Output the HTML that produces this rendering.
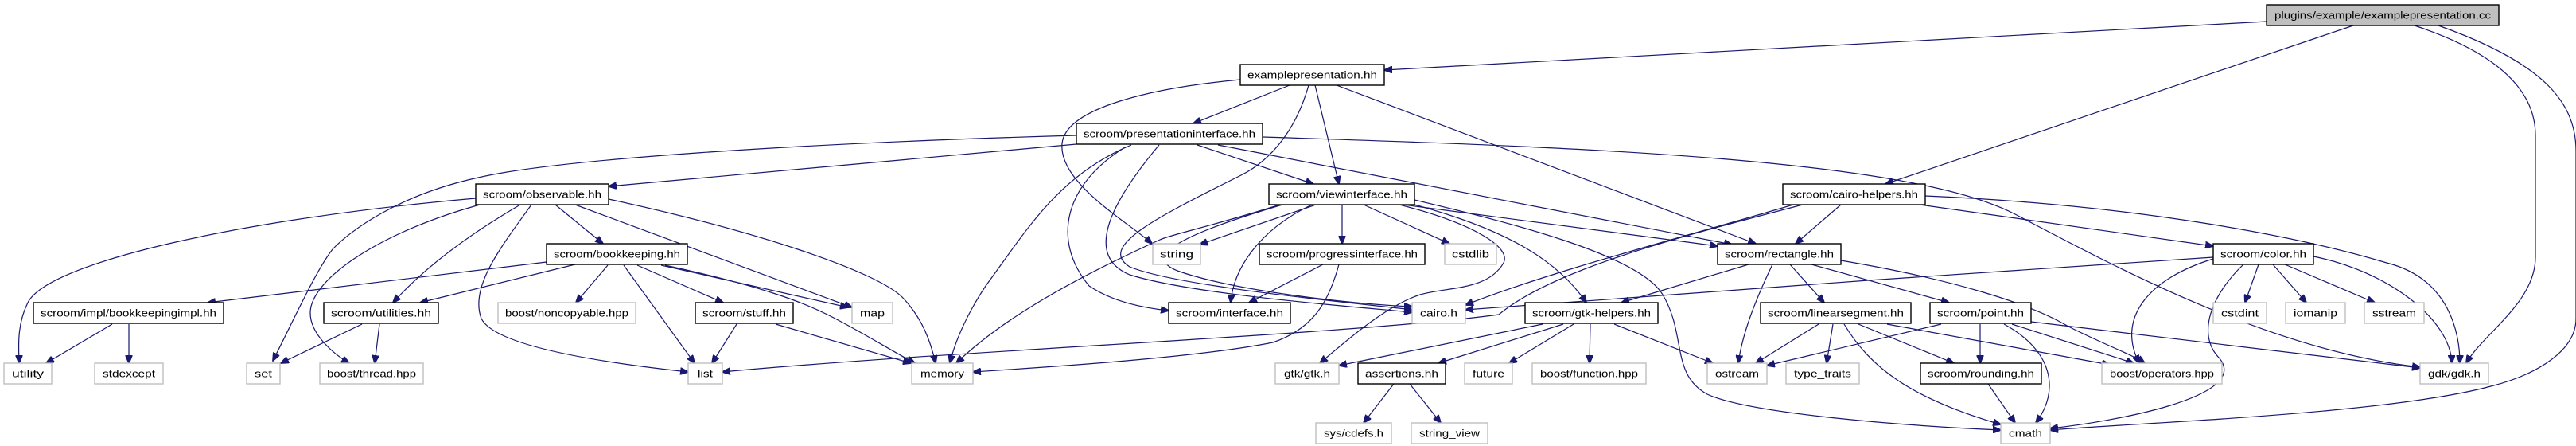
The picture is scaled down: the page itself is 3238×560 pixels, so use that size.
<!DOCTYPE html>
<html><head><meta charset="utf-8"><style>
html,body{margin:0;padding:0;background:#fff;}
svg{display:block;}
text{font-family:"Liberation Sans","DejaVu Sans",sans-serif;font-size:13px;fill:#000;}
.e{fill:none;stroke:#191970;stroke-width:1.2;marker-end:url(#a);}
.b{fill:#fff;stroke:#000;stroke-width:1.4;}
.g{fill:#fff;stroke:#bfbfbf;stroke-width:1.4;}
</style></head><body>
<svg width="3238" height="560" viewBox="0 0 3238 560" xmlns="http://www.w3.org/2000/svg">
<defs><marker id="a" markerWidth="11" markerHeight="9" refX="10" refY="4.5" orient="auto" markerUnits="userSpaceOnUse"><path d="M0,0 L11,4.5 L0,9 z" fill="#191970" stroke="#191970"/></marker></defs>
<g>
<path class="e" d="M2849,27 L1740,88"/>
<path class="e" d="M2958,32 L2370,231"/>
<path class="e" d="M3035,32 C3150,70 3187,120 3187,170 L3187,323 C3187,380 3120,420 3100,456"/>
<path class="e" d="M3065,32 C3200,80 3238,130 3238,190 L3238,400 C3238,440 3190,470 3131,485 C3000,520 2700,530 2577,540"/>
<path class="e" d="M1621,107 L1500,155"/>
<path class="e" d="M1653,107 L1683,231"/>
<path class="e" d="M1680,107 L2207,306"/>
<path class="e" d="M1559,100 C1450,110 1340,135 1335,180 C1330,230 1420,280 1448,306"/>
<path class="e" d="M1645,107 C1630,160 1600,200 1560,220 C1450,275 1380,310 1420,335 C1480,360 1700,380 1775,389"/>
<path class="e" d="M1353,181 L765,234"/>
<path class="e" d="M1353,170 C1000,180 700,200 601,223 C500,245 440,290 418,313 C397,340 370,400 343,453"/>
<path class="e" d="M1422,182 C1330,220 1290,290 1239,359 C1215,395 1200,430 1194,456"/>
<path class="e" d="M1414,185 C1340,230 1320,300 1369,359 C1400,380 1440,387 1469,390"/>
<path class="e" d="M1457,182 C1400,250 1360,320 1420,345 C1500,370 1700,385 1775,392"/>
<path class="e" d="M1505,182 L1651,231"/>
<path class="e" d="M1531,182 L2177,307"/>
<path class="e" d="M1587,172 C2000,185 2400,200 2533,269 C2650,330 2850,440 3042,461"/>
<path class="e" d="M598,249 C300,275 60,330 35,380 C20,410 24,440 24,456"/>
<path class="e" d="M607,256 C480,290 390,350 390,393 C390,420 420,445 439,456"/>
<path class="e" d="M654,257 C580,300 530,340 494,380"/>
<path class="e" d="M668,257 C630,310 590,360 605,400 C625,440 800,460 865,467"/>
<path class="e" d="M698,257 L758,306"/>
<path class="e" d="M723,257 L1071,386"/>
<path class="e" d="M765,250 C950,290 1100,340 1134,373 C1160,400 1170,430 1176,456"/>
<path class="e" d="M687,329 L261,380"/>
<path class="e" d="M727,331 L528,380"/>
<path class="e" d="M764,333 L724,380"/>
<path class="e" d="M784,333 L873,456"/>
<path class="e" d="M801,333 L909,380"/>
<path class="e" d="M831,333 L1066,386"/>
<path class="e" d="M836,333 C960,360 1010,380 1040,395 C1080,415 1120,440 1150,456"/>
<path class="e" d="M141,407 L58,456"/>
<path class="e" d="M162,407 L162,456"/>
<path class="e" d="M455,407 L353,456"/>
<path class="e" d="M477,407 L471,456"/>
<path class="e" d="M926,407 L895,456"/>
<path class="e" d="M975,407 L1145,456"/>
<path class="e" d="M1654,257 L1508,307"/>
<path class="e" d="M1612,257 C1500,290 1430,320 1480,340 C1550,365 1700,382 1775,385"/>
<path class="e" d="M1649,257 C1580,290 1550,340 1547,380"/>
<path class="e" d="M1687,257 L1687,306"/>
<path class="e" d="M1714,257 L1822,306"/>
<path class="e" d="M1759,257 C1850,280 1900,310 1890,330 C1870,365 1820,360 1785,370 C1740,385 1690,430 1659,456"/>
<path class="e" d="M1778,257 C1900,290 1960,330 1994,380"/>
<path class="e" d="M1764,257 L2159,309"/>
<path class="e" d="M1612,256 C1520,285 1470,295 1458,301 C1350,350 1260,400 1202,456"/>
<path class="e" d="M1778,251 C1900,280 2060,320 2090,370 C2120,420 2100,470 2146,495 C2200,520 2400,535 2515,540"/>
<path class="e" d="M2266,257 C2100,300 1950,340 1884,395 C1700,420 1200,440 908,467"/>
<path class="e" d="M2254,257 C2130,294 1950,340 1842,383"/>
<path class="e" d="M1683,332 C1670,380 1650,413 1600,430 C1500,450 1300,462 1223,467"/>
<path class="e" d="M1663,332 L1570,380"/>
<path class="e" d="M2314,257 L2257,306"/>
<path class="e" d="M2413,257 L2782,309"/>
<path class="e" d="M2420,246 C2700,258 2900,300 3000,330 C3080,350 3092,420 3092,456"/>
<path class="e" d="M2198,332 L2038,380"/>
<path class="e" d="M2228,332 C2205,380 2190,420 2185,456"/>
<path class="e" d="M2250,332 L2293,380"/>
<path class="e" d="M2277,332 L2450,380"/>
<path class="e" d="M2314,327 C2450,350 2550,380 2600,410 C2650,435 2680,445 2696,456"/>
<path class="e" d="M2782,323 C2500,340 2100,370 1842,389"/>
<path class="e" d="M1939,407 L1683,459"/>
<path class="e" d="M1965,407 L1808,456"/>
<path class="e" d="M1978,407 L1897,456"/>
<path class="e" d="M1999,407 L1998,456"/>
<path class="e" d="M2029,407 L2153,456"/>
<path class="e" d="M1752,482 L1714,531"/>
<path class="e" d="M1772,482 L1811,531"/>
<path class="e" d="M2286,407 L2207,456"/>
<path class="e" d="M2304,407 L2296,456"/>
<path class="e" d="M2318,407 C2350,460 2400,500 2515,533"/>
<path class="e" d="M2336,407 L2456,456"/>
<path class="e" d="M2372,407 L2652,458"/>
<path class="e" d="M2440,407 L2221,459"/>
<path class="e" d="M2489,407 L2489,456"/>
<path class="e" d="M2519,407 C2580,440 2590,490 2559,531"/>
<path class="e" d="M2529,407 L2682,456"/>
<path class="e" d="M2553,404 L3042,462"/>
<path class="e" d="M2499,482 L2533,531"/>
<path class="e" d="M2839,332 L2822,380"/>
<path class="e" d="M2857,332 L2899,380"/>
<path class="e" d="M2872,332 L2985,380"/>
<path class="e" d="M2782,325 C2700,350 2660,400 2689,456"/>
<path class="e" d="M2820,332 C2780,370 2760,420 2790,450 C2830,500 2650,530 2577,538"/>
<path class="e" d="M2908,322 C3000,340 3080,400 3082,456"/>
</g>
<g>
<rect x="2849" y="6" width="292" height="26" fill="#bfbfbf" stroke="#000" stroke-width="1.4"/>
<text x="2995" y="23.5" text-anchor="middle" textLength="272" lengthAdjust="spacingAndGlyphs">plugins/example/examplepresentation.cc</text>
</g>
<g id="nodes"></g>
<rect class="b" x="1559" y="81" width="181" height="26"/><text x="1649.5" y="98.5" text-anchor="middle" textLength="163" lengthAdjust="spacingAndGlyphs">examplepresentation.hh</text>
<rect class="b" x="1353" y="155" width="234" height="26"/><text x="1470" y="172.5" text-anchor="middle" textLength="216" lengthAdjust="spacingAndGlyphs">scroom/presentationinterface.hh</text>
<rect class="b" x="598" y="231" width="167" height="26"/><text x="681.5" y="248.5" text-anchor="middle" textLength="149" lengthAdjust="spacingAndGlyphs">scroom/observable.hh</text>
<rect class="b" x="1595" y="231" width="183" height="26"/><text x="1686.5" y="248.5" text-anchor="middle" textLength="165" lengthAdjust="spacingAndGlyphs">scroom/viewinterface.hh</text>
<rect class="b" x="2241" y="231" width="179" height="26"/><text x="2330.5" y="248.5" text-anchor="middle" textLength="161" lengthAdjust="spacingAndGlyphs">scroom/cairo-helpers.hh</text>
<rect class="b" x="687" y="306" width="177" height="26"/><text x="775.5" y="323.5" text-anchor="middle" textLength="159" lengthAdjust="spacingAndGlyphs">scroom/bookkeeping.hh</text>
<rect class="g" x="1449" y="306" width="60" height="26"/><text x="1479" y="323.5" text-anchor="middle" textLength="42" lengthAdjust="spacingAndGlyphs">string</text>
<rect class="b" x="1583" y="306" width="208" height="26"/><text x="1687" y="323.5" text-anchor="middle" textLength="190" lengthAdjust="spacingAndGlyphs">scroom/progressinterface.hh</text>
<rect class="g" x="1816" y="306" width="65" height="26"/><text x="1848.5" y="323.5" text-anchor="middle" textLength="47" lengthAdjust="spacingAndGlyphs">cstdlib</text>
<rect class="b" x="2159" y="306" width="155" height="26"/><text x="2236.5" y="323.5" text-anchor="middle" textLength="137" lengthAdjust="spacingAndGlyphs">scroom/rectangle.hh</text>
<rect class="b" x="2782" y="306" width="126" height="26"/><text x="2845" y="323.5" text-anchor="middle" textLength="108" lengthAdjust="spacingAndGlyphs">scroom/color.hh</text>
<rect class="b" x="42" y="380" width="239" height="26"/><text x="161.5" y="397.5" text-anchor="middle" textLength="221" lengthAdjust="spacingAndGlyphs">scroom/impl/bookkeepingimpl.hh</text>
<rect class="b" x="407" y="380" width="144" height="26"/><text x="479" y="397.5" text-anchor="middle" textLength="126" lengthAdjust="spacingAndGlyphs">scroom/utilities.hh</text>
<rect class="g" x="626" y="380" width="173" height="26"/><text x="712.5" y="397.5" text-anchor="middle" textLength="155" lengthAdjust="spacingAndGlyphs">boost/noncopyable.hpp</text>
<rect class="b" x="874" y="380" width="123" height="26"/><text x="935.5" y="397.5" text-anchor="middle" textLength="105" lengthAdjust="spacingAndGlyphs">scroom/stuff.hh</text>
<rect class="g" x="1071" y="380" width="51" height="26"/><text x="1096.5" y="397.5" text-anchor="middle" textLength="31" lengthAdjust="spacingAndGlyphs">map</text>
<rect class="b" x="1469" y="380" width="153" height="26"/><text x="1545.5" y="397.5" text-anchor="middle" textLength="135" lengthAdjust="spacingAndGlyphs">scroom/interface.hh</text>
<rect class="g" x="1775" y="380" width="67" height="26"/><text x="1808.5" y="397.5" text-anchor="middle" textLength="47" lengthAdjust="spacingAndGlyphs">cairo.h</text>
<rect class="b" x="1917" y="380" width="167" height="26"/><text x="2000.5" y="397.5" text-anchor="middle" textLength="149" lengthAdjust="spacingAndGlyphs">scroom/gtk-helpers.hh</text>
<rect class="b" x="2213" y="380" width="189" height="26"/><text x="2307.5" y="397.5" text-anchor="middle" textLength="171" lengthAdjust="spacingAndGlyphs">scroom/linearsegment.hh</text>
<rect class="b" x="2426" y="380" width="127" height="26"/><text x="2489.5" y="397.5" text-anchor="middle" textLength="109" lengthAdjust="spacingAndGlyphs">scroom/point.hh</text>
<rect class="g" x="2782" y="380" width="67" height="26"/><text x="2815.5" y="397.5" text-anchor="middle" textLength="47" lengthAdjust="spacingAndGlyphs">cstdint</text>
<rect class="g" x="2873" y="380" width="75" height="26"/><text x="2910.5" y="397.5" text-anchor="middle" textLength="55" lengthAdjust="spacingAndGlyphs">iomanip</text>
<rect class="g" x="2972" y="380" width="75" height="26"/><text x="3009.5" y="397.5" text-anchor="middle" textLength="55" lengthAdjust="spacingAndGlyphs">sstream</text>
<rect class="g" x="5" y="456" width="60" height="26"/><text x="35" y="473.5" text-anchor="middle" textLength="40" lengthAdjust="spacingAndGlyphs">utility</text>
<rect class="g" x="119" y="456" width="86" height="26"/><text x="162" y="473.5" text-anchor="middle" textLength="66" lengthAdjust="spacingAndGlyphs">stdexcept</text>
<rect class="g" x="310" y="456" width="42" height="26"/><text x="331" y="473.5" text-anchor="middle" textLength="22" lengthAdjust="spacingAndGlyphs">set</text>
<rect class="g" x="402" y="456" width="130" height="26"/><text x="467" y="473.5" text-anchor="middle" textLength="112" lengthAdjust="spacingAndGlyphs">boost/thread.hpp</text>
<rect class="g" x="865" y="456" width="43" height="26"/><text x="886.5" y="473.5" text-anchor="middle" textLength="19" lengthAdjust="spacingAndGlyphs">list</text>
<rect class="g" x="1146" y="456" width="77" height="26"/><text x="1184.5" y="473.5" text-anchor="middle" textLength="55" lengthAdjust="spacingAndGlyphs">memory</text>
<rect class="g" x="1603" y="456" width="80" height="26"/><text x="1643" y="473.5" text-anchor="middle" textLength="58" lengthAdjust="spacingAndGlyphs">gtk/gtk.h</text>
<rect class="b" x="1707" y="456" width="110" height="26"/><text x="1762" y="473.5" text-anchor="middle" textLength="92" lengthAdjust="spacingAndGlyphs">assertions.hh</text>
<rect class="g" x="1841" y="456" width="60" height="26"/><text x="1871" y="473.5" text-anchor="middle" textLength="40" lengthAdjust="spacingAndGlyphs">future</text>
<rect class="g" x="1926" y="456" width="143" height="26"/><text x="1997.5" y="473.5" text-anchor="middle" textLength="123" lengthAdjust="spacingAndGlyphs">boost/function.hpp</text>
<rect class="g" x="2146" y="456" width="75" height="26"/><text x="2183.5" y="473.5" text-anchor="middle" textLength="55" lengthAdjust="spacingAndGlyphs">ostream</text>
<rect class="g" x="2245" y="456" width="92" height="26"/><text x="2291" y="473.5" text-anchor="middle" textLength="72" lengthAdjust="spacingAndGlyphs">type_traits</text>
<rect class="b" x="2414" y="456" width="152" height="26"/><text x="2490" y="473.5" text-anchor="middle" textLength="134" lengthAdjust="spacingAndGlyphs">scroom/rounding.hh</text>
<rect class="g" x="2642" y="456" width="151" height="26"/><text x="2717.5" y="473.5" text-anchor="middle" textLength="131" lengthAdjust="spacingAndGlyphs">boost/operators.hpp</text>
<rect class="g" x="3042" y="456" width="86" height="26"/><text x="3085" y="473.5" text-anchor="middle" textLength="66" lengthAdjust="spacingAndGlyphs">gdk/gdk.h</text>
<rect class="g" x="1654" y="531" width="95" height="26"/><text x="1701.5" y="548.5" text-anchor="middle" textLength="75" lengthAdjust="spacingAndGlyphs">sys/cdefs.h</text>
<rect class="g" x="1774" y="531" width="96" height="26"/><text x="1822" y="548.5" text-anchor="middle" textLength="76" lengthAdjust="spacingAndGlyphs">string_view</text>
<rect class="g" x="2515" y="531" width="62" height="26"/><text x="2546" y="548.5" text-anchor="middle" textLength="42" lengthAdjust="spacingAndGlyphs">cmath</text>
</svg>
</body></html>
